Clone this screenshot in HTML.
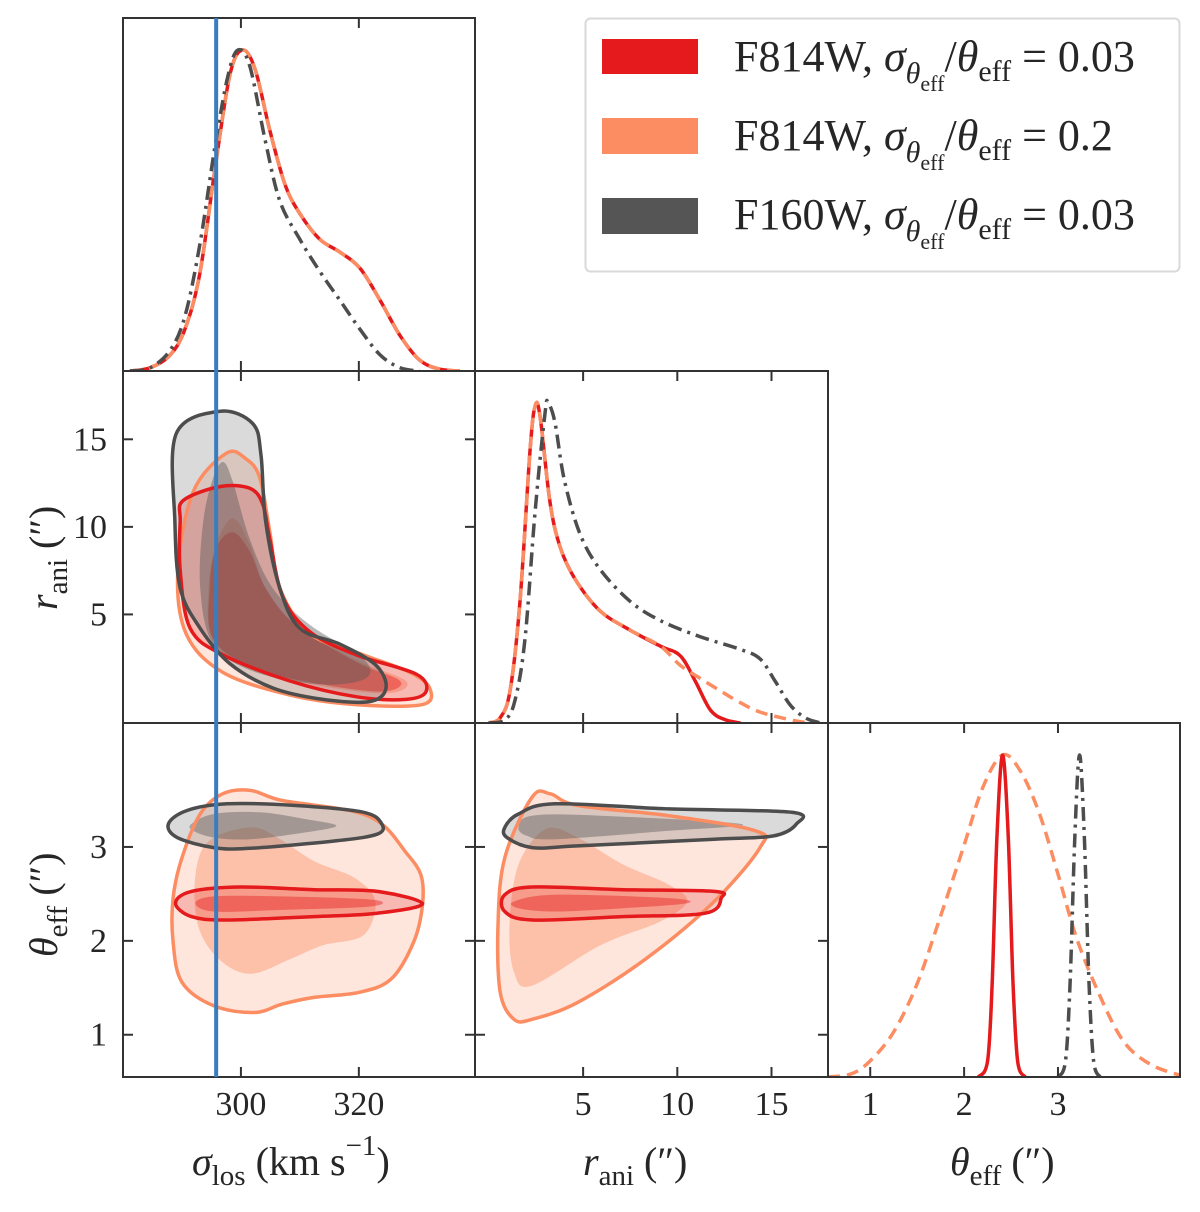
<!DOCTYPE html>
<html><head><meta charset="utf-8"><style>
html,body{margin:0;padding:0;background:#fff}
svg text{font-family:"Liberation Serif",serif;fill:#262626}
</style></head><body>
<svg id="fig" width="1200" height="1207" viewBox="0 0 1200 1207" xmlns="http://www.w3.org/2000/svg"></svg>
<script>
// ---------- data ----------
const sigTicks=[300,320];
const rTicks=[5,10,15];
const thTicks=[1,2,3];
const sigmaTruth=295.8;
// 1D marginals (x, normalized density)
const sigRedX=[281.2,284.6,288,290.5,293,295.6,298.1,300.2,302.4,304.9,307.5,310,313.4,316.8,320.2,323.6,327,330.3,333.7,337.1];
const sigRedY=[0,0.01,0.05,0.13,0.30,0.63,0.92,1.0,0.94,0.75,0.58,0.49,0.41,0.37,0.32,0.22,0.11,0.034,0.006,0];
const sigGrayX=[281.2,284.6,288,290.5,293,295.6,297.8,299.5,301.5,304.1,306.6,310,313.4,316.8,320.2,323.6,327,330.3];
const sigGrayY=[0,0.01,0.065,0.17,0.39,0.70,0.92,1.0,0.95,0.72,0.53,0.41,0.31,0.22,0.13,0.05,0.01,0];
const rRedX=[0,0.59,1.12,1.65,2.18,2.45,2.71,3.24,3.78,4.57,5.9,7.5,9.1,10.16,10.96,11.76,12.55,13.35];
const rRedY=[0,0.016,0.10,0.38,0.85,0.99,0.96,0.69,0.55,0.45,0.35,0.29,0.24,0.21,0.13,0.04,0.01,0];
const rOrX=[0,0.59,1.12,1.65,2.18,2.45,2.71,3.24,3.78,4.57,5.9,7.5,9.1,10.16,11.2,12.3,13.3,14.4,16,17];
const rOrY=[0,0.016,0.10,0.38,0.85,0.99,0.96,0.69,0.55,0.45,0.35,0.29,0.24,0.18,0.14,0.10,0.065,0.034,0.01,0];
const rGrayX=[0,0.85,1.38,1.91,2.45,2.98,3.14,3.5,4.0,4.84,5.9,7.5,9.1,11.2,13.35,14.4,15.2,16.0,16.8,17.6];
const rGrayY=[0,0.01,0.07,0.26,0.66,0.97,1.0,0.94,0.76,0.59,0.48,0.38,0.32,0.27,0.23,0.20,0.13,0.056,0.016,0];
const thRedX=[2.15,2.25,2.3,2.35,2.41,2.47,2.52,2.57,2.65];
const thRedY=[0,0.05,0.3,0.75,1.0,0.75,0.3,0.05,0];
const thOrX=[0.55,0.8,1.0,1.25,1.5,1.75,2.0,2.2,2.41,2.6,2.8,3.0,3.2,3.45,3.7,3.98,4.3];
const thOrY=[0,0.01,0.05,0.14,0.29,0.5,0.72,0.9,1.0,0.95,0.82,0.63,0.43,0.25,0.11,0.04,0.005];
const thGrayX=[3.0,3.08,3.13,3.18,3.23,3.28,3.33,3.38,3.45];
const thGrayY=[0,0.05,0.3,0.75,1.0,0.75,0.3,0.05,0];
// 2D contours [x,y]
const srGrayOuter=[[296.4,16.6],[289.0,15.3],[288.8,10.3],[289.7,6.5],[293.1,4.2],[298.1,2.2],[305.4,0.8],[313.9,0.15],[321.9,0.03],[324.6,0.8],[322.9,2.1],[316.8,3.3],[310.0,4.2],[306.6,6.5],[304.2,10.3],[303.4,14.1],[302.0,15.9]];
const srGrayInner=[[297,13.7],[298.6,12.6],[301.5,9.3],[305.4,6.5],[311.7,4.4],[320.7,2.5],[321.2,1.35],[313.9,1.0],[302.5,1.7],[295.3,3.3],[293.1,6.5],[293.6,10.3],[295.3,12.8]];
const srOrOuter=[[297.5,14.2],[291.9,12.0],[289.3,7.5],[290.7,3.9],[296.9,1.7],[308.3,0.4],[319.5,-0.15],[330.8,-0.15],[332.0,0.8],[328.6,1.7],[320.7,2.7],[311.7,3.9],[306.6,6.5],[304.9,9.7],[303.2,12.8],[300.8,13.9]];
const srOrInner=[[298.6,10.5],[301.5,9.0],[304.2,6.5],[309.3,4.4],[319.5,2.4],[328,1.2],[325,0.5],[313.9,0.9],[302.5,1.8],[295.3,3.5],[294.5,6.5],[295.8,9.0]];
const srRedOuter=[[290.2,11.5],[296.4,12.3],[301.5,12.2],[303.7,11.3],[304.9,9.3],[307.1,6.0],[311.7,4.0],[319.5,2.7],[329.7,1.6],[331.4,0.6],[328.0,0.15],[319.5,0.3],[308.3,1.2],[296.9,2.7],[291.4,4.2],[289.7,7.5],[289.7,10.3]];
const srRedInner=[[298.6,9.7],[301.5,8.6],[304.2,6.5],[309.3,4.4],[319.5,2.3],[327,1.2],[324.1,0.6],[313.9,1.0],[302.5,1.9],[295.3,3.6],[294.7,6.5],[295.8,8.8]];
const stGrayOuter=[[287.7,3.244],[290.8,3.387],[297.7,3.459],[309.3,3.441],[320.8,3.369],[323.9,3.244],[323.1,3.136],[316.2,3.065],[301.6,2.986],[295.4,2.993],[289.2,3.1]];
const stGrayInner=[[291.6,3.244],[295.4,3.351],[303.1,3.369],[310.8,3.298],[316.2,3.226],[310.8,3.154],[301.6,3.082],[295.4,3.1],[291.9,3.172]];
const stRedOuter=[[288.9,2.401],[291.6,2.527],[300.0,2.573],[312.4,2.545],[323.1,2.527],[330.8,2.394],[323.1,2.294],[312.4,2.258],[297.7,2.222],[291.6,2.258]];
const stRedInner=[[292.3,2.401],[295.4,2.473],[307.0,2.473],[322.4,2.437],[322.0,2.366],[307.0,2.330],[295.4,2.312]];
const stOrOuter=[[296.9,3.566],[301.6,3.602],[307.0,3.495],[318.5,3.387],[323.9,3.244],[327.8,2.957],[330.5,2.706],[330.8,2.383],[329.3,1.989],[325.5,1.595],[320.1,1.452],[312.4,1.398],[307.0,1.326],[302.3,1.237],[295.4,1.308],[290.0,1.559],[288.5,1.989],[288.5,2.455],[290.0,2.885],[293.1,3.351]];
const stOrInner=[[301.6,3.208],[306.2,3.1],[312.4,2.849],[319.3,2.67],[322.8,2.419],[320.8,2.061],[313.9,1.953],[308.5,1.81],[301.6,1.649],[296.2,1.81],[292.7,2.168],[292.3,2.706],[294.6,3.064]];
const rtGrayOuter=[[0.84,3.208],[1.57,3.351],[3.5,3.459],[9.55,3.405],[16.08,3.369],[16.32,3.244],[15.11,3.118],[11.96,3.082],[4.71,3.011],[2.29,2.993],[0.96,3.1]];
const rtGrayInner=[[1.57,3.208],[2.29,3.333],[5.92,3.333],[13.41,3.244],[9.55,3.172],[3.5,3.082],[2.02,3.118]];
const rtRedOuter=[[0.84,2.491],[2.29,2.573],[7.12,2.545],[11.96,2.527],[12.33,2.455],[11.48,2.294],[7.12,2.258],[2.29,2.222],[0.84,2.312]];
const rtRedInner=[[1.33,2.419],[3.5,2.491],[9.55,2.455],[10.52,2.401],[7.12,2.348],[3.5,2.312],[1.57,2.348]];
const rtOrOuter=[[2.29,3.53],[3.26,3.566],[4.71,3.441],[9.55,3.333],[14.15,3.172],[14.39,2.993],[11.96,2.419],[8.34,1.81],[4.71,1.344],[2.29,1.165],[1.33,1.165],[0.6,1.452],[0.48,2.168],[0.84,2.885]];
const rtOrInner=[[3.02,3.19],[4.71,3.1],[7.12,2.813],[9.55,2.598],[10.52,2.419],[9.07,2.204],[5.92,1.953],[2.29,1.523],[1.33,1.667],[1.09,2.168],[1.57,2.813]];

// ---------- layout ----------
const NS="http://www.w3.org/2000/svg";
const svg=document.getElementById('fig');
const colX=[123,475,828,1180], rowY=[18,371,723,1077];
const sigDom=[280,339.7], rDom=[-0.74,18.0], thDom=[0.55,4.3];
const rYDom=[-1.2,18.9], thYDom=[0.55,4.32];
const RED='#e41a1c', OR='#fc8d62', GR='#4d4d4d';
function lin(d,r){return v=>r[0]+(v-d[0])/(d[1]-d[0])*(r[1]-r[0]);}
function mk(tag,attrs,parent){const e=document.createElementNS(NS,tag);for(const k in attrs)e.setAttribute(k,attrs[k]);(parent||svg).appendChild(e);return e;}
function smoothClosed(pts){
  const n=pts.length;let d=`M${pts[0][0].toFixed(1)},${pts[0][1].toFixed(1)}`;
  for(let i=0;i<n;i++){const p0=pts[(i-1+n)%n],p1=pts[i],p2=pts[(i+1)%n],p3=pts[(i+2)%n];
    const c1=[p1[0]+(p2[0]-p0[0])/6,p1[1]+(p2[1]-p0[1])/6],c2=[p2[0]-(p3[0]-p1[0])/6,p2[1]-(p3[1]-p1[1])/6];
    d+=`C${c1[0].toFixed(1)},${c1[1].toFixed(1)} ${c2[0].toFixed(1)},${c2[1].toFixed(1)} ${p2[0].toFixed(1)},${p2[1].toFixed(1)}`;}
  return d+'Z';}
function smoothOpen(pts){
  const n=pts.length;let d=`M${pts[0][0].toFixed(1)},${pts[0][1].toFixed(1)}`;
  for(let i=0;i<n-1;i++){const p0=pts[Math.max(i-1,0)],p1=pts[i],p2=pts[i+1],p3=pts[Math.min(i+2,n-1)];
    const c1=[p1[0]+(p2[0]-p0[0])/6,p1[1]+(p2[1]-p0[1])/6],c2=[p2[0]-(p3[0]-p1[0])/6,p2[1]-(p3[1]-p1[1])/6];
    d+=`C${c1[0].toFixed(1)},${c1[1].toFixed(1)} ${c2[0].toFixed(1)},${c2[1].toFixed(1)} ${p2[0].toFixed(1)},${p2[1].toFixed(1)}`;}
  return d;}
let clipN=0;
function panel(name,c,r){
  const x0=colX[c],x1=colX[c+1],y0=rowY[r],y1=rowY[r+1];
  const id='clip'+(clipN++);const cp=mk('clipPath',{id});mk('rect',{x:x0,y:y0,width:x1-x0,height:y1-y0},cp);
  const g=mk('g',{'clip-path':`url(#${id})`});
  
  
  return {g,x0,x1,y0,y1};}
function frame(p,name){const f=mk('rect',{x:p.x0,y:p.y0,width:p.x1-p.x0,height:p.y1-p.y0,fill:'none',stroke:'#333',"stroke-width":2});
  
  }
function xticks(p,ticks,sx,labels){ticks.forEach(t=>{const x=sx(t);
  mk('line',{x1:x,x2:x,y1:p.y1,y2:p.y1-10,stroke:'#333','stroke-width':2});
  mk('line',{x1:x,x2:x,y1:p.y0,y2:p.y0+10,stroke:'#333','stroke-width':2});
  if(labels){const t2=mk('text',{x:x,y:1115,'font-size':34,'text-anchor':'middle'});t2.textContent=t;
    
    }});}
function yticks(p,ticks,sy,labels){ticks.forEach(t=>{const y=sy(t);
  mk('line',{x1:p.x0,x2:p.x0+10,y1:y,y2:y,stroke:'#333','stroke-width':2});
  mk('line',{x1:p.x1,x2:p.x1-10,y1:y,y2:y,stroke:'#333','stroke-width':2});
  if(labels){const t2=mk('text',{x:107,y:y+11,'font-size':34,'text-anchor':'end'});t2.textContent=t;
    
    }});}
function contourSet(p,sx,sy,outer,inner,col,name){
  const o=outer.map(q=>[sx(q[0]),sy(q[1])]),i=inner.map(q=>[sx(q[0]),sy(q[1])]);
  const a=mk('path',{d:smoothClosed(o),fill:col,'fill-opacity':0.22,stroke:'none'},p.g);
  
  
  const b=mk('path',{d:smoothClosed(i),fill:col,'fill-opacity':0.42,stroke:'none'},p.g);
  
  
  return o;}
function contourLine(p,o,col,name){const l=mk('path',{d:smoothClosed(o),fill:'none',stroke:col,'stroke-width':3.5},p.g);
  
  }
function kde(p,sx,xs,ys,col,dash,name){const top=p.y0+32,bot=p.y1;
  const pts=xs.map((x,i)=>[sx(x),bot-ys[i]*(bot-top)]);
  const l=mk('path',{d:smoothOpen(pts),fill:'none',stroke:col,'stroke-width':3.5,'stroke-dasharray':dash||'none'},p.g);
  
  }

const sxS=lin(sigDom,[123,475]), sxR=lin(rDom,[475,828]), sxT=lin(thDom,[828,1180]);
const syR=lin(rYDom,[723,371]), syT=lin(thYDom,[1077,723]);
const DD='14,6,3,6';

let p=panel('sigma-marginal-panel',0,0);
kde(p,sxS,sigRedX,sigRedY,RED,null,'sigma-red-kde');
kde(p,sxS,sigRedX,sigRedY,OR,'12,7','sigma-orange-kde');
kde(p,sxS,sigGrayX,sigGrayY,GR,DD,'sigma-gray-kde');
frame(p,'sigma-marginal-frame');xticks(p,sigTicks,sxS,false);

p=panel('sigma-rani-panel',0,1);
let oO=contourSet(p,sxS,syR,srOrOuter,srOrInner,OR,'sr-orange');
let rO=contourSet(p,sxS,syR,srRedOuter,srRedInner,RED,'sr-red');
let gO=contourSet(p,sxS,syR,srGrayOuter,srGrayInner,'#555','sr-gray');
contourLine(p,oO,OR,'sr-orange');contourLine(p,rO,RED,'sr-red');contourLine(p,gO,GR,'sr-gray');
frame(p,'sigma-rani-frame');xticks(p,sigTicks,sxS,false);yticks(p,rTicks,syR,true);

p=panel('rani-marginal-panel',1,1);
kde(p,sxR,rRedX,rRedY,RED,null,'rani-red-kde');
kde(p,sxR,rOrX,rOrY,OR,'12,7','rani-orange-kde');
kde(p,sxR,rGrayX,rGrayY,GR,DD,'rani-gray-kde');
frame(p,'rani-marginal-frame');xticks(p,rTicks,sxR,false);

p=panel('sigma-theta-panel',0,2);
oO=contourSet(p,sxS,syT,stOrOuter,stOrInner,OR,'st-orange');
rO=contourSet(p,sxS,syT,stRedOuter,stRedInner,RED,'st-red');
gO=contourSet(p,sxS,syT,stGrayOuter,stGrayInner,'#555','st-gray');
contourLine(p,oO,OR,'st-orange');contourLine(p,rO,RED,'st-red');contourLine(p,gO,GR,'st-gray');
frame(p,'sigma-theta-frame');xticks(p,sigTicks,sxS,true);yticks(p,thTicks,syT,true);

p=panel('rani-theta-panel',1,2);
oO=contourSet(p,sxR,syT,rtOrOuter,rtOrInner,OR,'rt-orange');
rO=contourSet(p,sxR,syT,rtRedOuter,rtRedInner,RED,'rt-red');
gO=contourSet(p,sxR,syT,rtGrayOuter,rtGrayInner,'#555','rt-gray');
contourLine(p,oO,OR,'rt-orange');contourLine(p,rO,RED,'rt-red');contourLine(p,gO,GR,'rt-gray');
frame(p,'rani-theta-frame');xticks(p,rTicks,sxR,true);yticks(p,thTicks,syT,false);

p=panel('theta-marginal-panel',2,2);
kde(p,sxT,thOrX,thOrY,OR,'12,7','theta-orange-kde');
kde(p,sxT,thRedX,thRedY,RED,null,'theta-red-kde');
kde(p,sxT,thGrayX,thGrayY,GR,DD,'theta-gray-kde');
frame(p,'theta-marginal-frame');xticks(p,thTicks,sxT,true);

const tl=mk('line',{x1:sxS(sigmaTruth),x2:sxS(sigmaTruth),y1:18,y2:1077,stroke:'#3a7dbf','stroke-width':4});


</script>
<svg width="1200" height="1207" style="position:absolute;left:0;top:0" xmlns="http://www.w3.org/2000/svg">
  <g>
    <text x="192" y="1175" font-size="40"><tspan font-style="italic">σ</tspan><tspan font-size="29" dy="10">los</tspan><tspan dy="-10"> (km s</tspan><tspan font-size="29" dy="-20">−1</tspan><tspan dy="20">)</tspan></text>
    <text x="583" y="1175" font-size="40"><tspan font-style="italic">r</tspan><tspan font-size="29" dy="10">ani</tspan><tspan dy="-10"> (″)</tspan></text>
    <text x="950" y="1175" font-size="40"><tspan font-style="italic">θ</tspan><tspan font-size="29" dy="10">eff</tspan><tspan dy="-10"> (″)</tspan></text>
  </g>
  <text transform="translate(57,610) rotate(-90)" font-size="40"><tspan font-style="italic">r</tspan><tspan font-size="29" dy="10">ani</tspan><tspan dy="-10"> (″)</tspan></text>
  <text transform="translate(57,957) rotate(-90)" font-size="40"><tspan font-style="italic">θ</tspan><tspan font-size="29" dy="10">eff</tspan><tspan dy="-10"> (″)</tspan></text>
  <g>
    <rect x="585.5" y="18.5" width="594" height="253" rx="5" fill="#fff" stroke="#d9d9d9" stroke-width="2"/>
    <rect x="602" y="39" width="96" height="35" fill="#e41a1c"/>
    <rect x="602" y="118" width="96" height="36" fill="#fc8d62"/>
    <rect x="602" y="198" width="96" height="36" fill="#555"/>
    <text x="734" y="71" font-size="44">F814W, <tspan font-style="italic">σ</tspan><tspan font-size="30" dy="12" font-style="italic">θ</tspan><tspan font-size="22" dy="8">eff</tspan><tspan dy="-20">/</tspan><tspan font-style="italic">θ</tspan><tspan font-size="30" dy="10">eff</tspan><tspan dy="-10"> = 0.03</tspan></text>
    <text x="734" y="150" font-size="44">F814W, <tspan font-style="italic">σ</tspan><tspan font-size="30" dy="12" font-style="italic">θ</tspan><tspan font-size="22" dy="8">eff</tspan><tspan dy="-20">/</tspan><tspan font-style="italic">θ</tspan><tspan font-size="30" dy="10">eff</tspan><tspan dy="-10"> = 0.2</tspan></text>
    <text x="734" y="229" font-size="44">F160W, <tspan font-style="italic">σ</tspan><tspan font-size="30" dy="12" font-style="italic">θ</tspan><tspan font-size="22" dy="8">eff</tspan><tspan dy="-20">/</tspan><tspan font-style="italic">θ</tspan><tspan font-size="30" dy="10">eff</tspan><tspan dy="-10"> = 0.03</tspan></text>
  </g>
</svg>
</body></html>
